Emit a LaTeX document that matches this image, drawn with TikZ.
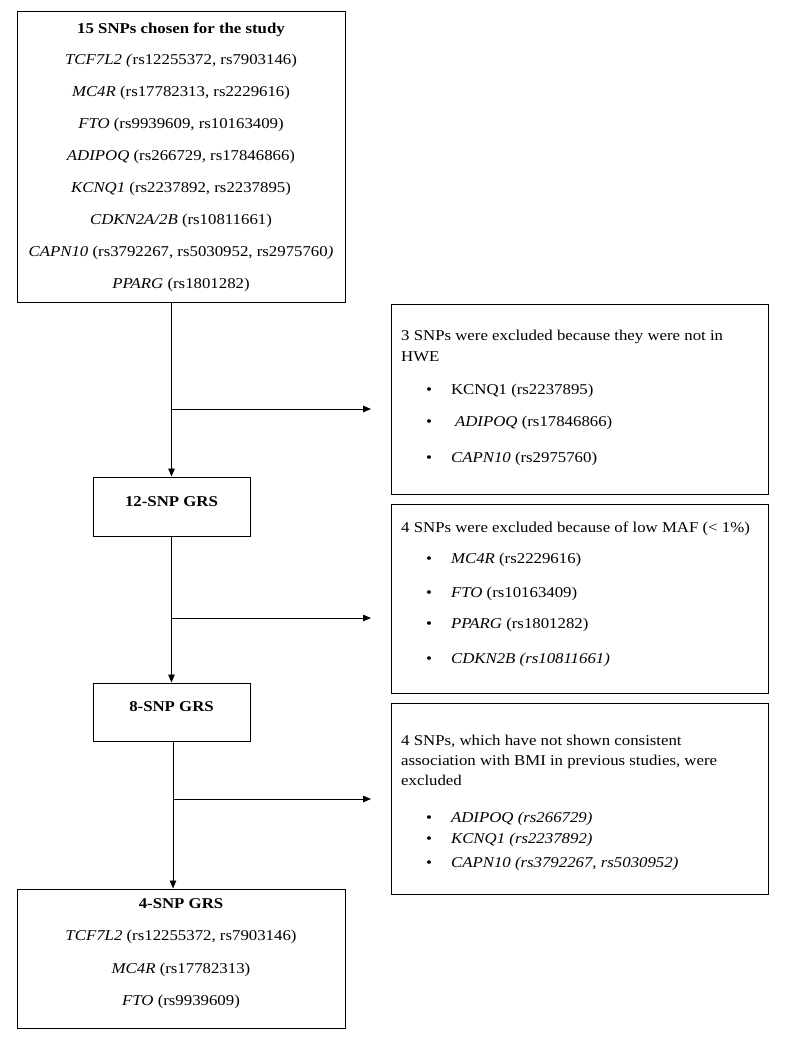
\documentclass[tikz,border=0pt]{standalone}
\usepackage{fontspec}
\setmainfont{Liberation Serif}[FakeStretch=1.12]
\usetikzlibrary{arrows.meta,positioning}

\newcommand{\itm}{\hspace*{25pt}\textbullet\hspace{19pt}}

\tikzset{
    box/.style={draw, line width=1pt, inner sep=0pt},
    txt/.style={inner sep=0pt, text width=357pt, align=flush left, anchor=north west},
    flow/.style={line width=0.9pt},
    arr/.style={flow, -{Triangle[length=8pt,width=6.5pt]}},
}

\begin{document}
\begin{tikzpicture}[x=1pt, y=-1pt, font=\fontsize{15}{21}\selectfont]
    \useasboundingbox (0, 0) rectangle (785, 1043);

    % left column
    \node[box, minimum width=328pt, minimum height=290pt, align=center,
          font=\fontsize{15}{31.9}\selectfont] (all) at (181, 157)
        {\textbf{15 SNPs chosen for the study}\\
         \textit{TCF7L2 (}rs12255372, rs7903146)\\
         \textit{MC4R} (rs17782313, rs2229616)\\
         \textit{FTO} (rs9939609, rs10163409)\\
         \textit{ADIPOQ} (rs266729, rs17846866)\\
         \textit{KCNQ1} (rs2237892, rs2237895)\\
         \textit{CDKN2A/2B} (rs10811661)\\
         \textit{CAPN10} (rs3792267, rs5030952, rs2975760\textit{)}\\
         \textit{PPARG} (rs1801282)};
    \node[box, minimum width=157pt, minimum height=59pt, text depth=9pt] (grs12) at (171.5, 506.5)
        {\textbf{12-SNP GRS}};
    \node[box, minimum width=157pt, minimum height=58pt, text depth=10pt] (grs8) at (171.5, 712)
        {\textbf{8-SNP GRS}};
    \node[box, minimum width=328pt, minimum height=139pt] (grs4) at (181, 958.5) {};
    \node[align=center, inner sep=0pt, font=\fontsize{15}{32.3}\selectfont] (grs4txt) at (181, 953.5)
        {\textbf{4-SNP GRS}\\
         \textit{TCF7L2} (rs12255372, rs7903146)\\
         \textit{MC4R} (rs17782313)\\
         \textit{FTO} (rs9939609)};

    % right column
    \node[box, minimum width=377pt, minimum height=190pt] (hwe) at (579.5, 399) {};
    \node[box, minimum width=377pt, minimum height=189pt] (maf) at (579.5, 598.5) {};
    \node[box, minimum width=377pt, minimum height=191pt] (bmi) at (579.5, 798.5) {};

    \node[txt] (hwetxt) at (401, 330)
        {3 SNPs were excluded because they were not in\\
         HWE\\[12pt]
         \itm KCNQ1 (rs2237895)\\[11pt]
         \itm\hspace{4pt}\textit{ADIPOQ} (rs17846866)\\[15pt]
         \itm\textit{CAPN10} (rs2975760)};
    \node[txt] (maftxt) at (401, 522)
        {4 SNPs were excluded because of low MAF (< 1\%)\\[10pt]
         \itm\textit{MC4R} (rs2229616)\\[13pt]
         \itm\textit{FTO} (rs10163409)\\[10pt]
         \itm\textit{PPARG} (rs1801282)\\[14pt]
         \itm\textit{CDKN2B (rs10811661)}};
    \node[txt] (bmitxt) at (401, 735)
        {4 SNPs, which have not shown consistent\\[-1pt]
         association with BMI in previous studies, were\\[-1pt]
         excluded\\[16pt]
         \itm\textit{ADIPOQ (rs266729)}\\[0pt]
         \itm\textit{KCNQ1 (rs2237892)}\\[3pt]
         \itm\textit{CAPN10 (rs3792267, rs5030952)}};

    % branch points
    \coordinate (b1) at (172, 409);
    \coordinate (b2) at (172, 618);
    \coordinate (b3) at (173, 799);
    \coordinate (t1) at (371, 409);
    \coordinate (t2) at (371, 618);
    \coordinate (t3) at (371, 799);

    \draw[arr] (grs12.north |- all.south) -- (grs12.north);
    \draw[arr] (grs12.south) -- (grs8.north);
    \draw[arr] (b3 |- grs8.south) -- (b3 |- grs4.north);
    \draw[arr] (b1) -- (t1);
    \draw[arr] (b2) -- (t2);
    \draw[arr] (b3) -- (t3);
\end{tikzpicture}
\end{document}
